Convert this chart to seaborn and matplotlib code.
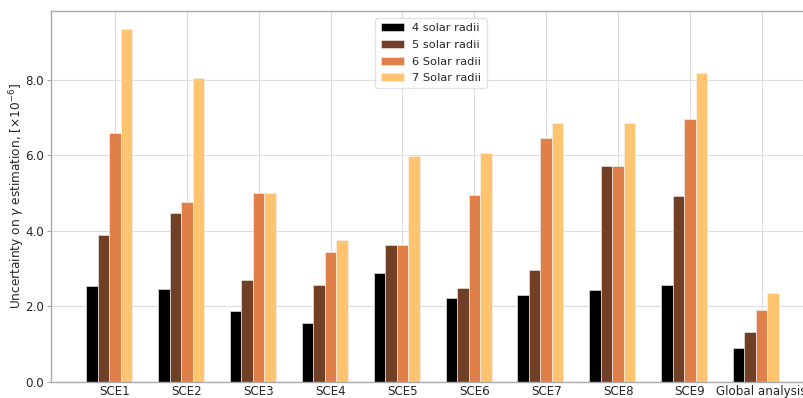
import numpy as np
import pandas as pd
import seaborn as sns
import matplotlib
matplotlib.use("Agg")
import matplotlib.pyplot as plt

scenarios = ["SCE1", "SCE2", "SCE3", "SCE4", "SCE5", "SCE6", "SCE7", "SCE8", "SCE9",
             "Global analysis"]
radii_labels = ["4 solar radii", "5 solar radii", "6 Solar radii", "7 Solar radii"]
r4 = [2.53, 2.45, 1.86, 1.55, 2.87, 2.21, 2.31, 2.43, 2.56, 0.89]
r5 = [3.88, 4.46, 2.69, 2.57, 3.62, 2.49, 2.96, 5.71, 4.92, 1.32]
r6 = [6.58, 4.77, 5.00, 3.43, 3.62, 4.94, 6.45, 5.71, 6.95, 1.90]
r7 = [9.35, 8.05, 5.00, 3.75, 5.99, 6.05, 6.86, 6.85, 8.19, 2.35]
colors = ["#000000", "#703f25", "#e07f48", "#ffc470"]

df = pd.DataFrame({
    "scenario": scenarios * 4,
    "radius": np.repeat(radii_labels, len(scenarios)),
    "value": r4 + r5 + r6 + r7,
})

sns.set_style("whitegrid")
plt.rcParams["font.family"] = ["DejaVu Sans"]

fig = plt.figure(figsize=(8.04, 3.98), dpi=100)
ax = fig.add_axes([0.0634, 0.041, 0.9636, 0.931])

sns.barplot(data=df, x="scenario", y="value", hue="radius", order=scenarios,
            hue_order=radii_labels, palette=colors, width=0.64, ax=ax,
            edgecolor="#f4f4f4", linewidth=0.4, saturation=1)

ax.set_xticks(np.arange(len(scenarios)) + 0.08)
ax.set_xticklabels(scenarios, fontsize=8.6)
ax.set_yticks([0, 2, 4, 6, 8])
ax.set_yticklabels([f"{v:.1f}" for v in [0, 2, 4, 6, 8]], fontsize=8.6)
ax.set_xlim(-0.81, 9.97)
ax.set_ylim(0, 9.82)
ax.set_xlabel("")
ax.set_ylabel(r"Uncertainty on $\gamma$ estimation, [$\times 10^{-6}$]", fontsize=8.7,
              labelpad=-1)

ax.grid(True, color="#dddddd", linewidth=0.8)
ax.set_axisbelow(True)
for s in ax.spines.values():
    s.set_color("#aaaaaa")
    s.set_linewidth(1.0)
ax.tick_params(axis="y", which="major", left=True, length=3, color="#aaaaaa", pad=2)
ax.tick_params(axis="x", which="major", bottom=False, length=0, pad=2.5)

leg = ax.legend(loc="upper center", bbox_to_anchor=(0.4905, 0.996), fontsize=8.2,
                frameon=True, handlelength=2.1, handleheight=0.7, borderpad=0.45,
                labelspacing=0.58, handletextpad=0.7)
leg.get_frame().set_edgecolor("#dddddd")

fig.savefig("out.png", dpi=100)
